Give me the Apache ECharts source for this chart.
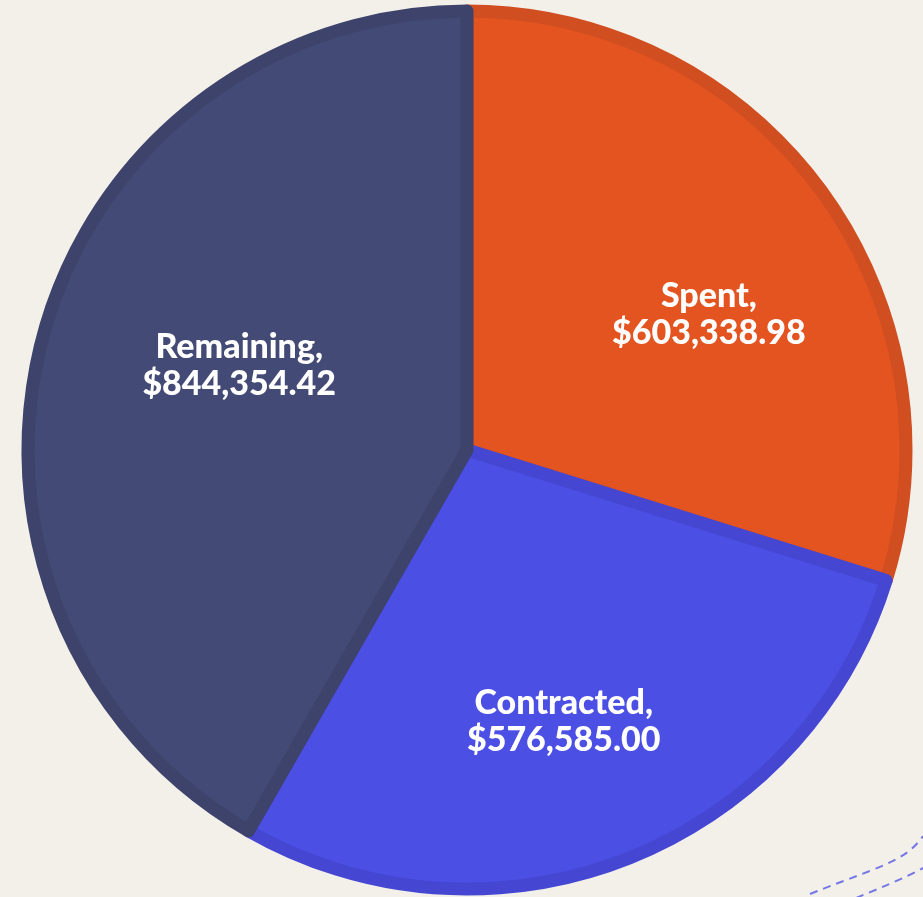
<!DOCTYPE html>
<html>
<head>
<meta charset="utf-8">
<script src="https://cdn.jsdelivr.net/npm/echarts@6/dist/echarts.min.js"></script>
<style>
  html, body { margin: 0; padding: 0; background: #f3f0ea; }
  #chart { width: 923px; height: 897px; }
</style>
</head>
<body>
<div id="chart"></div>
<script>
// budget breakdown
const names = ['Spent', 'Contracted', 'Remaining']
const amounts = [603338.98, 576585.00, 844354.42]
const fills = ['#e35421', '#4c4fe4', '#434a75']
const edges = ['#d04e20', '#4547d2', '#3d436b']
// nudges so labels sit where the original put them
const labelShift = [[22, 26], [-3, 17], [36, -14]]

const money = v => '$' + v.toLocaleString('en-US', { minimumFractionDigits: 2, maximumFractionDigits: 2 })

const slices = names.map((n, i) => ({
  name: n,
  value: amounts[i],
  itemStyle: { color: fills[i], borderColor: edges[i] }
}))

const chart = echarts.init(document.getElementById('chart'))
chart.setOption({
  backgroundColor: '#f3f0ea',
  animation: false,
  series: [
    {
      type: 'pie',
      center: [467, 450],
      radius: [0, 439],
      startAngle: 90,
      clockwise: true,
      silent: true,
      itemStyle: { borderWidth: 13 },
      label: { show: false },
      labelLine: { show: false },
      data: slices
    },
    {
      // label carrier, transparent
      type: 'pie',
      center: [467, 450],
      radius: [0, 540],
      startAngle: 90,
      silent: true,
      itemStyle: { color: 'transparent' },
      label: {
        show: true,
        position: 'inside',
        color: '#fff',
        fontFamily: 'Lato',
        fontWeight: 900,
        fontSize: 34,
        lineHeight: 37,
        formatter: p => p.name + ',\n' + money(p.value)
      },
      labelLine: { show: false },
      data: names.map((n, i) => ({
        name: n,
        value: amounts[i],
        label: { offset: labelShift[i] }
      }))
    }
  ],
  graphic: [
    {
      type: 'bezierCurve',
      shape: { x1: 810, y1: 894, x2: 923, y2: 836, cpx1: 880, cpy1: 866, cpx2: 905, cpy2: 862 },
      style: { stroke: '#7676e6', lineWidth: 2, lineDash: [8, 6], fill: null }
    },
    {
      type: 'bezierCurve',
      shape: { x1: 856, y1: 898, x2: 923, y2: 868, cpx1: 880, cpy1: 888, cpx2: 905, cpy2: 878 },
      style: { stroke: '#7676e6', lineWidth: 2, lineDash: [8, 6], fill: null }
    }
  ]
})
</script>
</body>
</html>
